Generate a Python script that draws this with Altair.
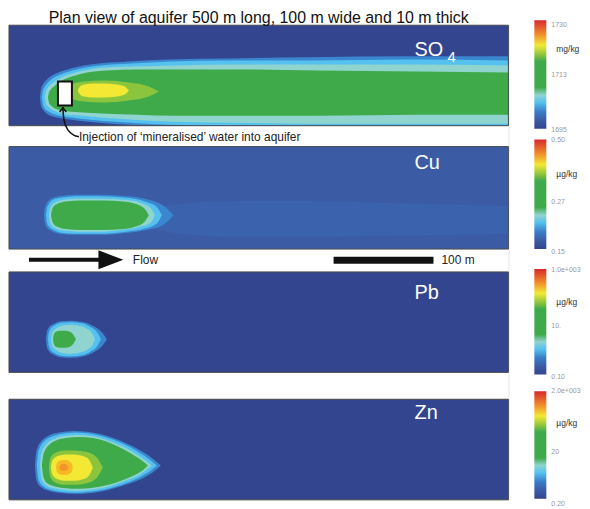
import altair as alt
import pandas as pd

FONT = "Liberation Sans"

TITLE = "Plan view of aquifer 500 m long, 100 m wide and 10 m thick"
NOTE = "Injection of \u2018mineralised\u2019 water into aquifer"
ELEMENTS = ["SO", "Cu", "Pb", "Zn"]
UNITS = ["mg/kg", "\u00b5g/kg", "\u00b5g/kg", "\u00b5g/kg"]

# colour map: fraction of the colour bar (bottom -> top) and colours
CMAP_POS = [0.0, 0.08, 0.16, 0.24, 0.31, 0.38, 0.62, 0.70, 0.77, 0.86, 1.0]
CMAP_COL = ["#33458e", "#3b5ca5", "#3a7fca", "#55c1ee", "#8fd4cf", "#3faa49",
            "#3faa49", "#a3cd3b", "#f3e934", "#f2952b", "#d8282b"]

# background level of each panel (fraction of colour bar)
BG_LEVEL = [0.0, 0.08, 0.0, 0.0]
PANEL_H = [101, 103, 101, 101]     # drawn height of each aquifer panel
GAP_BELOW = [21, 23, 27, 0]        # white space under each panel

# colour-bar tick labels and their position (m from the panel top)
TICKS = [["1730", "1713", "1695"],
         ["0.50", "0.27", "0.15"],
         ["1.0e+003", "10.", "0.10"],
         ["2.0e+003", "20", "0.20"]]
TICK_Y = [[0, 50, 104], [-6, 54, 103], [-2, 54, 105], [-8, 52, 104]]
UNIT_Y = [24, 27, 30, 24]
CB_TOP = [-5, -7, -3, -8]
CB_BOT = [103, 100, 102, 99]
LABEL_Y = [24.5, 16.5, 21, 13.5]

# plume contour bands: (level, x along aquifer [m], upper edge, lower edge [m from top])
SO4_BANDS = [
    (0.17, [31, 32, 34, 38, 45, 55, 70, 90, 120, 160, 220, 300, 400, 500],
           [72, 64, 59, 54, 49, 45, 41, 38, 36, 34, 33, 32, 31, 31],
           [72, 80, 84, 88, 91, 93, 95, 97, 99, 100, 100, 100, 100, 100]),
    (0.24, [33, 34, 36, 40, 47, 57, 72, 92, 122, 162, 222, 302, 402, 500],
           [72, 65, 61, 56, 51, 47, 43, 40, 38, 36, 35, 35, 34, 35],
           [72, 79, 83, 86, 89, 91, 93, 95, 97, 99, 100, 100, 100, 100]),
    (0.31, [36, 37, 39, 43, 50, 60, 75, 95, 125, 165, 225, 305, 405, 500],
           [72, 66, 62, 58, 53, 49, 45, 42, 41, 40, 39, 39, 39, 40],
           [72, 78, 81, 84, 87, 89, 90, 92, 94, 96, 97, 98, 98, 98]),
    (0.45, [39, 40, 42, 46, 53, 63, 78, 98, 128, 168, 228, 308, 408, 500],
           [72, 67, 64, 60, 55, 51, 47, 45, 44, 44, 44, 45, 46, 47],
           [72, 77, 80, 83, 85, 86, 87, 88, 89, 90, 90, 90, 89, 89]),
    (0.68, [58, 60, 65, 75, 95, 120, 140, 150],
           [66, 61, 58, 56, 55, 57, 61, 66],
           [66, 71, 74, 76, 77, 75, 71, 66]),
    (0.77, [69, 71, 75, 85, 95, 108, 116, 120],
           [65, 61, 59, 58, 58, 59, 61, 65],
           [65, 69, 71, 72, 72, 71, 69, 65]),
]

CU_BANDS = [
    (0.095, [140, 170, 230, 300, 380, 460, 500],
            [62, 56, 53, 53, 55, 57, 58],
            [78, 85, 88, 88, 87, 86, 85]),
    (0.17, [35, 36, 38, 42, 50, 65, 90, 120, 140, 155, 165],
           [67, 59, 55, 51, 48.5, 47, 47, 48.5, 52, 58, 67],
           [67, 75, 79, 82, 85, 86, 86, 84, 81, 76, 67]),
    (0.24, [37, 38, 40, 44, 52, 67, 90, 118, 136, 148, 153],
           [67, 60, 56, 52, 50, 48.5, 48.5, 50, 53.5, 59, 67],
           [67, 74, 78, 81, 84, 85, 85, 83, 80, 75, 67]),
    (0.31, [40, 41, 43, 47, 55, 70, 92, 116, 132, 142, 146],
           [67, 61, 57, 54, 52, 51, 51, 52, 55, 60, 67],
           [67, 73, 77, 80, 82, 83, 83, 81, 78, 74, 67]),
    (0.42, [42, 43, 45, 49, 57, 72, 94, 114, 127, 136, 140],
           [67, 62, 58, 55.5, 53.5, 52.5, 52.5, 53.5, 56, 61, 67],
           [67, 72, 76, 78.5, 80.5, 81.5, 81.5, 80.5, 78, 73, 67]),
]

PB_BANDS = [
    (0.17, [37, 38, 40, 44, 52, 62, 75, 85, 93, 98],
           [67, 59, 55, 52, 49, 48.5, 50, 54, 60, 67],
           [67, 75, 79, 82, 85, 85.5, 84, 80, 74, 67]),
    (0.24, [39, 40, 42, 46, 53, 62, 73, 82, 89, 92],
           [67, 60, 56, 53, 50.5, 50, 51, 55, 61, 67],
           [67, 74, 78, 81, 83.5, 84, 83, 79, 73, 67]),
    (0.31, [42, 43, 45, 49, 55, 63, 72, 79, 84, 86],
           [67, 61, 58, 55, 53, 52.5, 54, 57, 62, 67],
           [67, 73, 76, 79, 81, 81.5, 80, 77, 72, 67]),
    (0.42, [44, 45, 47, 51, 56, 61, 64, 67],
           [67, 62, 59.5, 58.5, 58.5, 59.5, 62, 67],
           [67, 72, 74.5, 75.5, 75.5, 74.5, 72, 67]),
]

ZN_BANDS = [
    (0.17, [26, 27, 29, 33, 40, 50, 65, 80, 100, 120, 135, 145, 152],
           [66, 54, 47, 41, 36, 33, 31.5, 32.5, 37, 45, 53, 60, 66],
           [66, 78, 84, 88, 91, 93, 94, 93.5, 90, 84, 78, 72, 66]),
    (0.24, [28, 29, 31, 35, 42, 52, 66, 80, 99, 118, 132, 142, 148],
           [66, 55, 48, 42, 37.5, 34.5, 33, 34, 38.5, 46, 54, 61, 66],
           [66, 77, 83, 87, 90, 92, 93, 92, 89, 83, 77, 71, 66]),
    (0.31, [31, 32, 34, 38, 45, 55, 68, 82, 99, 116, 129, 138, 143],
           [66, 56, 50, 44, 39.5, 36.5, 35.5, 36.5, 41, 48, 55.5, 62, 66],
           [66, 76, 82, 86, 88.5, 90, 91, 90, 87, 81, 76, 70, 66]),
    (0.44, [33, 34, 36, 40, 47, 57, 70, 84, 100, 115, 127, 135, 139],
           [66, 57, 51, 45.5, 41, 38.5, 37.5, 38.5, 43, 50, 57, 62.5, 66],
           [66, 75, 81, 84.5, 87, 88.5, 89, 88, 85, 80, 75, 70, 66]),
    (0.68, [40, 41, 43, 47, 55, 65, 78, 88, 94],
           [68, 60, 56, 53, 51, 51, 52.5, 58, 68],
           [68, 76, 80, 83, 85, 85, 83.5, 78, 68]),
    (0.77, [42, 43, 45, 49, 56, 65, 74, 80, 84],
           [68, 62, 59, 56.5, 55, 55, 56.5, 60, 68],
           [68, 74, 77, 79.5, 81, 81, 79.5, 76, 68]),
    (0.82, [47, 48, 50, 54, 58, 61, 63, 64],
           [68, 63.5, 61.5, 60.5, 60.5, 62, 64.5, 68],
           [68, 72.5, 74.5, 75.5, 75.5, 74, 71.5, 68]),
    (0.86, [50, 51, 53, 56, 58.5, 59.5],
           [68, 66, 64.5, 64.5, 66, 68],
           [68, 70, 71.5, 71.5, 70, 68]),
]
BANDS = [SO4_BANDS, CU_BANDS, PB_BANDS, ZN_BANDS]

# annotations (m)
WELL_X = [49, 63]
WELL_Y = [56, 80]
POINTER_X = [54, 54.5, 58.5, 65, 70]
POINTER_Y = [81.5, 95, 105, 110, 111]
FLOW_X = [20, 91]
FLOW_HEAD_X = 102
FLOW_Y = 110.5
SCALE_X = [325, 425]

X = alt.X("x:Q", scale=alt.Scale(domain=[0, 500], nice=False, zero=False), axis=None)
C = alt.Color("level:Q", scale=alt.Scale(domain=CMAP_POS, range=CMAP_COL), legend=None)

GRAD = {"gradient": "linear", "x1": 0, "y1": 1, "x2": 0, "y2": 0,
        "stops": [{"offset": p, "color": c} for p, c in zip(CMAP_POS, CMAP_COL)]}


def y_max(i):
    return 100.0 * (PANEL_H[i] + GAP_BELOW[i]) / PANEL_H[i]


def make_y(i):
    # 0..100 m spans the panel; the rest of the view is the white gap under it
    return alt.Y("top:Q", scale=alt.Scale(domain=[0, y_max(i)], reverse=True,
                                          nice=False, zero=False), axis=None)


def text_layer(Y, xs, ys, texts, **kw):
    df = pd.DataFrame({"x": xs, "top": ys, "t": texts})
    props = dict(align="left", baseline="middle", font=FONT)
    props.update(kw)
    return alt.Chart(df).mark_text(**props).encode(x=X, y=Y, text="t:N")


def panel(i):
    Y = make_y(i)
    layers = []
    bg = pd.DataFrame({"x": [0], "x2": [500], "top": [0], "bot": [100], "level": [BG_LEVEL[i]]})
    layers.append(alt.Chart(bg).mark_rect().encode(x=X, x2="x2:Q", y=Y, y2="bot:Q", color=C))
    for lvl, xs, tops, bots in BANDS[i]:
        df = pd.DataFrame({"x": xs, "top": tops, "bot": bots, "level": lvl})
        layers.append(alt.Chart(df).mark_area(interpolate="monotone").encode(
            x=X, y=Y, y2="bot:Q", color=C))
    # white gap under the panel
    if GAP_BELOW[i] > 0:
        gap = pd.DataFrame({"x": [0], "x2": [500], "top": [100.2], "bot": [y_max(i)]})
        layers.append(alt.Chart(gap).mark_rect(fill="white", strokeWidth=0).encode(
            x=X, x2="x2:Q", y=Y, y2="bot:Q"))
    # panel frame
    layers.append(alt.Chart(bg).mark_rect(filled=False, stroke="#4a4a4a", strokeWidth=1).encode(
        x=X, x2="x2:Q", y=Y, y2="bot:Q"))
    # element label
    layers.append(text_layer(Y, [406], [LABEL_Y[i]], [ELEMENTS[i]], fontSize=20, color="white"))
    # colour bar
    cb = pd.DataFrame({"x": [526], "x2": [538], "top": [CB_TOP[i]], "bot": [CB_BOT[i]]})
    layers.append(alt.Chart(cb).mark_rect(fill=GRAD).encode(x=X, x2="x2:Q", y=Y, y2="bot:Q"))
    layers.append(text_layer(Y, [543] * 3, TICK_Y[i], TICKS[i], fontSize=7, color="#9a9a9a"))
    layers.append(text_layer(Y, [548], [UNIT_Y[i]], [UNITS[i]], fontSize=8.5, color="#333333"))
    return Y, layers


def finish(i, layers):
    return alt.layer(*layers).properties(width=502, height=PANEL_H[i] + GAP_BELOW[i])


# SO4 panel
Y0, so4 = panel(0)
so4.append(text_layer(Y0, [439], [32], ["4"], fontSize=15, color="white"))
so4.append(text_layer(Y0, [250], [-14.8], [TITLE], fontSize=16, color="#111111",
                      align="center", baseline="top"))
well = pd.DataFrame({"x": [WELL_X[0]], "x2": [WELL_X[1]], "top": [WELL_Y[0]], "bot": [WELL_Y[1]]})
so4.append(alt.Chart(well).mark_rect(fill="white", stroke="#111111", strokeWidth=2).encode(
    x=X, x2="x2:Q", y=Y0, y2="bot:Q"))
ptr = pd.DataFrame({"x": POINTER_X, "top": POINTER_Y, "i": list(range(len(POINTER_X)))})
so4.append(alt.Chart(ptr).mark_line(interpolate="basis", color="#111111", strokeWidth=1.5).encode(
    x=X, y=Y0, order="i:Q"))
head = pd.DataFrame({"x": [POINTER_X[0]], "top": [POINTER_Y[0] + 1.5]})
so4.append(alt.Chart(head).mark_point(shape="M-1,1L0,-0.3L1,1", filled=False, color="#111111",
                                      strokeWidth=1.5, size=45, opacity=1).encode(x=X, y=Y0))
so4.append(text_layer(Y0, [POINTER_X[-1]], [POINTER_Y[-1]], [NOTE], fontSize=12, color="#222222"))
so4_chart = finish(0, so4)

# Cu panel with flow arrow and scale bar underneath
Y1, cu = panel(1)
shaft = pd.DataFrame({"x": [FLOW_X[0]], "x2": [FLOW_X[1]], "top": [FLOW_Y]})
cu.append(alt.Chart(shaft).mark_rule(color="#111111", strokeWidth=4).encode(x=X, x2="x2:Q", y=Y1))
fhead = pd.DataFrame({"x": [FLOW_HEAD_X], "top": [FLOW_Y]})
cu.append(alt.Chart(fhead).mark_point(shape="M-1,-0.76L1,0L-1,0.76Z", filled=True, color="#111111",
                                      size=625, opacity=1).encode(x=X, y=Y1))
sbar = pd.DataFrame({"x": [SCALE_X[0]], "x2": [SCALE_X[1]], "top": [FLOW_Y + 0.5]})
cu.append(alt.Chart(sbar).mark_rule(color="#111111", strokeWidth=7).encode(x=X, x2="x2:Q", y=Y1))
cu.append(text_layer(Y1, [124, 433], [FLOW_Y + 0.5, FLOW_Y + 0.5], ["Flow", "100 m"],
                     fontSize=12, color="#222222"))
cu_chart = finish(1, cu)

_, pb = panel(2)
pb_chart = finish(2, pb)
_, zn = panel(3)
zn_chart = finish(3, zn)

chart = alt.vconcat(so4_chart, cu_chart, pb_chart, zn_chart, spacing=0, bounds="flush").properties(
    padding={"left": 0, "top": 0, "right": 0, "bottom": 0}
).configure_view(strokeWidth=0).configure(background="white")

chart.save("out.html", embed_options={"renderer": "svg", "actions": False})
